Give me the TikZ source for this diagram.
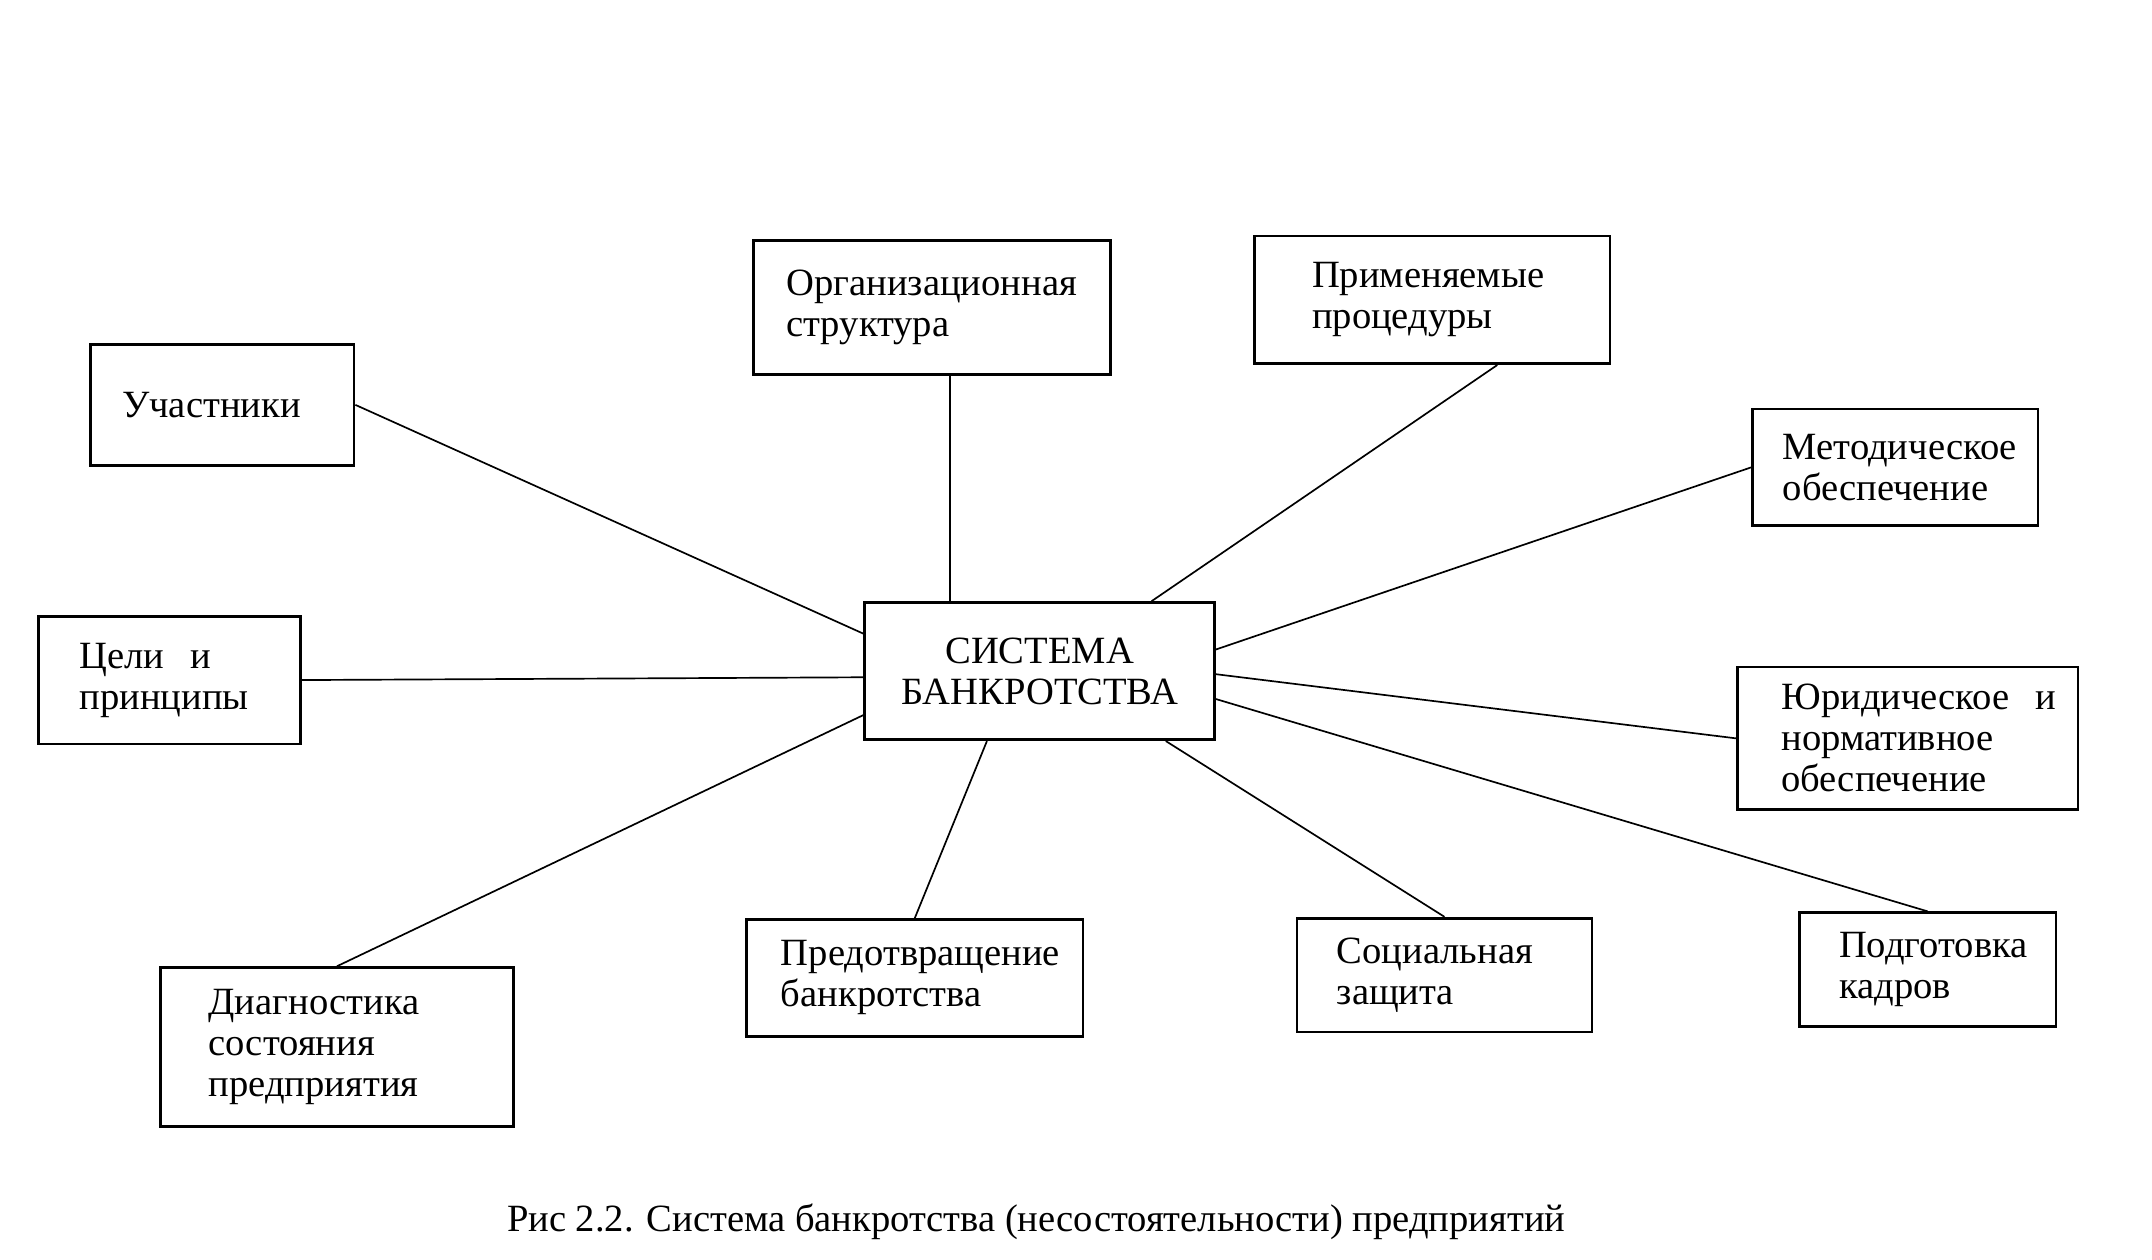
\documentclass[tikz,border=0pt]{standalone}
\usepackage{fontspec}
\setmainfont{Liberation Serif}
\usetikzlibrary{positioning,calc}

\tikzset{
	box/.style={draw, line width=1.1pt, align=left},
	link/.style={line width=0.7pt}
}

\begin{document}
\begin{tikzpicture}[x=0.02cm, y=-0.02cm]
	\useasboundingbox (0,0) rectangle (1568,918);
	\tikzstyle{every node}=[font=\fontsize{16}{17}\selectfont, inner sep=0pt]

	% boxes round the centre
	\node[box, text width=2.92cm, inner xsep=0.46cm, minimum height=1.76cm] (part) at (162,295) {Участники};
	\node[box, text width=4.24cm, inner xsep=0.48cm, minimum height=1.96cm] (org) at (679,224) {Организационная\\структура};
	\node[box, text width=3.50cm, inner xsep=0.84cm, minimum height=1.86cm] (proc) at (1043.5,218.5) {Применяемые\\процедуры};
	\node[box, text width=3.28cm, inner xsep=0.44cm, minimum height=1.70cm] (meth) at (1381,340.5) {Методическое\\обеспечение};
	\node[box, text width=2.62cm, inner xsep=0.60cm, minimum height=1.86cm] (goal) at (123.5,495.5) {Цели~~и\\принципы};
	\node[box, align=center, minimum width=5.1cm, minimum height=2cm] (sys) at (757.5,489) {СИСТЕМА\\БАНКРОТСТВА};
	\node[box, text width=3.68cm, inner xsep=0.64cm, minimum height=2.08cm] (law) at (1390,538) {Юридическое~~и\\нормативное\\обеспечение};
	\node[box, text width=3.74cm, inner xsep=0.70cm, minimum height=2.32cm] (diag) at (245.5,763) {Диагностика\\состояния\\предприятия};
	\node[box, text width=3.90cm, inner xsep=0.50cm, minimum height=1.70cm] (prev) at (666.5,712.5) {Предотвращение\\банкротства};
	\node[box, text width=3.14cm, inner xsep=0.58cm, minimum height=1.66cm] (soc) at (1052.5,710.5) {Социальная\\защита};
	\node[box, text width=2.58cm, inner xsep=0.58cm, minimum height=1.66cm] (hr) at (1404.5,706.5) {Подготовка\\кадров};

	\node (cap) at (755,890) {Рис 2.2. Система банкротства (несостоятельности) предприятий};

	\draw[link] (part.east) to (sys.168);
	\draw[link] (sys.142) to (sys.142 |- org.south);
	\draw[link] (proc.-45) to (sys.32.5);
	\draw[link] (meth.west) to (sys.7.6);
	\draw[link] (goal.east) to (sys.182);
	\draw[link] (law.west) to (sys.-1.3);
	\draw[link] (diag.north) to (sys.194);
	\draw[link] (prev.north) to (sys.233);
	\draw[link] (soc.north) to (sys.-29.7);
	\draw[link] (hr.north) to (sys.-9.4);

\end{tikzpicture}
\end{document}
